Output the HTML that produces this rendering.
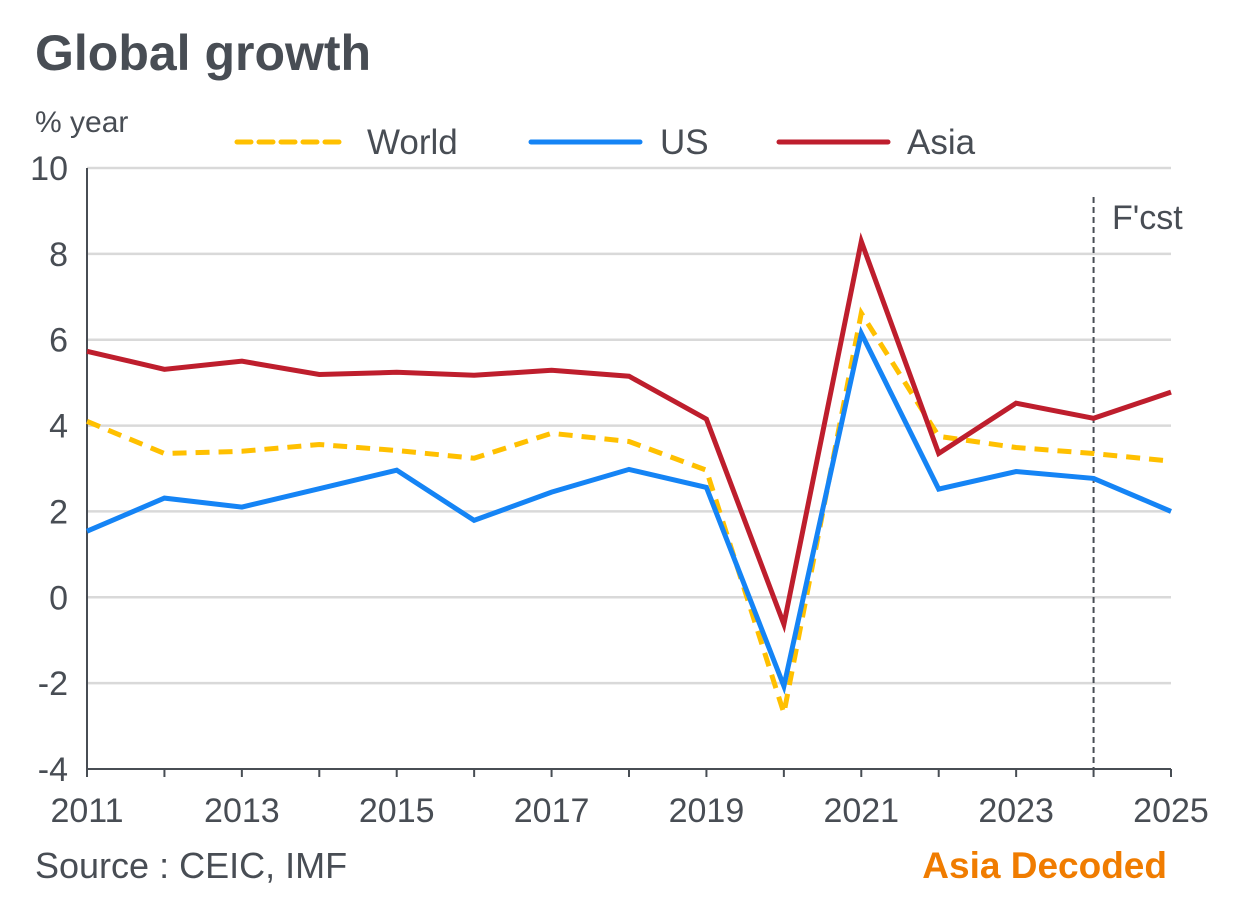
<!DOCTYPE html>
<html><head><meta charset="utf-8">
<style>
html,body{margin:0;padding:0;background:#fff;}
svg{display:block;font-family:"Liberation Sans",Arial,sans-serif;}
</style></head>
<body>
<svg id="chart" width="1240" height="906" viewBox="0 0 1240 906">
<text x="35" y="70" font-size="50" font-weight="bold" fill="#484d54">Global growth</text>
<text x="35" y="132" font-size="30" fill="#484d54">% year</text>
<g>
<g><line x1="237" y1="142" x2="345" y2="142" stroke="#ffc000" stroke-width="5" stroke-dasharray="14,8" stroke-linecap="round"/><text x="367" y="154" font-size="35" fill="#484d54">World</text></g>
<g><line x1="531" y1="142" x2="640" y2="142" stroke="#1584f5" stroke-width="5" stroke-linecap="round"/><text x="660" y="154" font-size="35" fill="#484d54">US</text></g>
<g><line x1="779" y1="142" x2="888" y2="142" stroke="#be1e2d" stroke-width="5" stroke-linecap="round"/><text x="907" y="154" font-size="35" fill="#484d54">Asia</text></g>
</g>
<g id="grid"></g>
<g id="yticks"></g>
<g id="xticks"></g>
<g id="series"></g>
<text x="1112" y="229" font-size="34" fill="#484d54">F'cst</text>
<text x="35" y="878" font-size="36" fill="#484d54">Source : CEIC, IMF</text>
<text x="1167" y="878" font-size="37" font-weight="bold" fill="#f07c00" text-anchor="end">Asia Decoded</text>
</svg>
<script>
const years = [2011,2012,2013,2014,2015,2016,2017,2018,2019,2020,2021,2022,2023,2024,2025];
const world = [4.1,3.35,3.4,3.56,3.42,3.24,3.82,3.63,2.96,-2.7,6.62,3.75,3.49,3.35,3.17];
const us = [1.54,2.31,2.1,2.53,2.96,1.79,2.45,2.98,2.56,-2.07,6.15,2.52,2.93,2.77,2.0];
const asia = [5.73,5.31,5.5,5.19,5.24,5.17,5.29,5.15,4.15,-0.63,8.29,3.35,4.52,4.17,4.78];
const yTicks = [-4,-2,0,2,4,6,8,10];
const xTickLabels = [2011,2013,2015,2017,2019,2021,2023,2025];
const forecastYear = 2024;

const NS = "http://www.w3.org/2000/svg";
const X0=87, X1=1171, Y0=769, Y1=168;
const xs = y => X0 + (y-2011)/(2025-2011)*(X1-X0);
const ys = v => Y0 - (v-(-4))/(10-(-4))*(Y0-Y1);
function mk(tag, attrs, parent){const e=document.createElementNS(NS,tag);for(const k in attrs)e.setAttribute(k,attrs[k]);parent.appendChild(e);return e;}
const grid=document.getElementById('grid'), yt=document.getElementById('yticks'), xt=document.getElementById('xticks'), ser=document.getElementById('series');
yTicks.forEach(v=>{
  if(v>-4){const l=mk('line',{x1:X0,x2:X1,y1:ys(v),y2:ys(v),stroke:'#d9d9d9','stroke-width':2.5},grid);
  
  }
  const t=mk('text',{x:68,y:ys(v)+12,'font-size':34,fill:'#484d54','text-anchor':'end'},yt);t.textContent=v;
  
  
});
const ax=mk('line',{x1:X0,x2:X0,y1:Y1,y2:Y0,stroke:'#484d54','stroke-width':2},grid);


const bx=mk('line',{x1:X0,x2:X1,y1:Y0,y2:Y0,stroke:'#484d54','stroke-width':2},grid);


years.forEach(y=>{const l=mk('line',{x1:xs(y),x2:xs(y),y1:Y0,y2:Y0+8,stroke:'#484d54','stroke-width':2},xt);
  
  });
xTickLabels.forEach(y=>{const t=mk('text',{x:xs(y),y:822,'font-size':34,fill:'#484d54','text-anchor':'middle'},xt);t.textContent=y;
  
  });
const fl=mk('line',{x1:xs(forecastYear),x2:xs(forecastYear),y1:197,y2:Y0,stroke:'#484d54','stroke-width':2,'stroke-dasharray':'6,4'},grid);


function line(vals,color,dash,name){
  const d=vals.map((v,i)=>(i?'L':'M')+xs(years[i]).toFixed(1)+','+ys(v).toFixed(1)).join('');
  const p=mk('path',{d:d,fill:'none',stroke:color,'stroke-width':5,'stroke-linejoin':'miter'},ser);
  if(dash)p.setAttribute('stroke-dasharray',dash);
  
  
}
line(world,'#ffc000','14,9','world-line');
line(us,'#1584f5',null,'us-line');
line(asia,'#be1e2d',null,'asia-line');
</script>
</body></html>
